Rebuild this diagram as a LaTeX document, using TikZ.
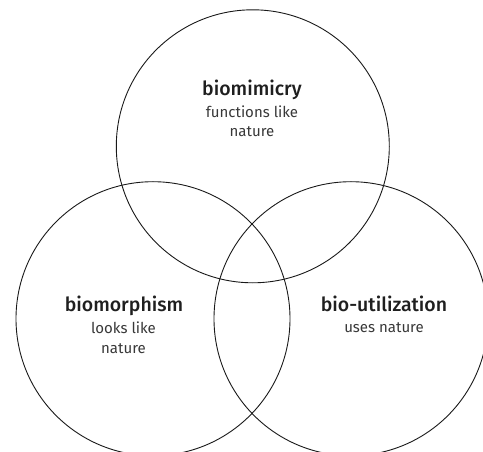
\documentclass[tikz,border=0pt]{standalone}
\usepackage{fontspec}
\setmainfont{Fira Sans}
\newfontfamily\headfont{Fira Sans Medium}
\begin{document}
\begin{tikzpicture}[x=1pt,y=-1pt,
    ring/.style={line width=0.9pt, black!90},
    head/.style={anchor=base, inner sep=0pt, text=black!88,
        font=\headfont\fontsize{19.5}{20}\selectfont},
    note/.style={anchor=base, inner sep=0pt, align=center, text=black!78,
        font=\fontsize{15}{20}\selectfont}]
    \useasboundingbox (0,0) rectangle (483,452);
    \clip (0,0) rectangle (483,452);
    %circles
    \coordinate (mimicry) at (252.8,146.3);
    \coordinate (morph) at (153,318.7);
    \coordinate (util) at (351,318.7);
    \draw[ring] (mimicry) circle[radius=136.5pt];
    \draw[ring] (morph) circle[radius=137pt];
    \draw[ring] (util) circle[radius=137pt];
    %labels (a note sits on the baseline of its last line)
    \node[head] (mimicryhead) at (252,95.5) {biomimicry};
    \node[note] (mimicrynote) at (252,137) {functions like\\nature};
    \node[head] (morphhead) at (124,311) {biomorphism};
    \node[note] (morphnote) at (123.5,353) {looks like\\nature};
    \node[head] (utilhead) at (384,311) {bio-utilization};
    \node[note] (utilnote) at (384,332) {uses nature};
\end{tikzpicture}
\end{document}
